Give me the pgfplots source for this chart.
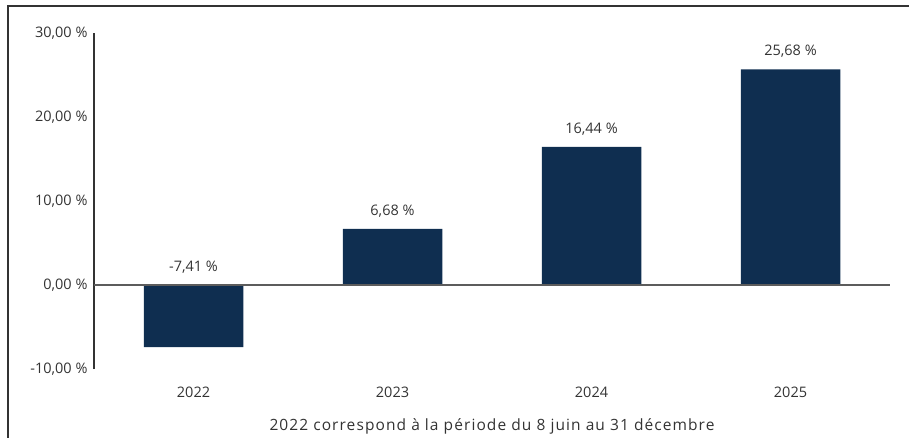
\documentclass[border=0pt]{standalone}
\usepackage{pgfplots}
\pgfplotsset{compat=1.18}
\usepackage{fontspec}
\setmainfont{Open Sans}
\definecolor{navy}{HTML}{0F2E50}
\definecolor{txt}{HTML}{333333}
\newcommand{\f}{\fontsize{14.5}{17}\selectfont}
\newcommand{\g}{\fontsize{15.5}{18}\selectfont\addfontfeature{LetterSpace=7}}
\begin{document}
\begin{tikzpicture}
\begin{axis}[
  scale only axis,
  width=796pt, height=336pt,
  xmin=-0.5, xmax=3.5,
  ymin=-10, ymax=30,
  clip=false,
  axis y line=left,
  axis x line=bottom,
  axis line style={-},
  y axis line style={draw=txt, line width=1.3pt},
  x axis line style={draw=none},
  major tick length=0pt,
  xtick={0,1,2,3},
  xticklabels={2022,2023,2024,2025},
  ytick={-10,0,10,20,30},
  yticklabels={{-10,00 \%},{0,00 \%},{10,00 \%},{20,00 \%},{30,00 \%}},
  tick label style={font=\f, text=txt},
  yticklabel style={xshift=-3pt},
  xticklabel style={yshift=-14pt},
  xlabel={2022 correspond à la période du 8 juin au 31 décembre},
  xlabel style={font=\g, text=txt, yshift=-15pt},
]
\addplot[ybar, bar width=0.5, fill=navy, draw=none] coordinates {(0,-7.41) (1,6.68) (2,16.44) (3,25.68)};
\draw[draw=txt!80, line width=1.2pt] (axis cs:-0.5,0) -- (axis cs:3.5,0);
\addplot[only marks, mark=none, point meta=explicit symbolic,
  nodes near coords,
  nodes near coords style={font=\f, text=txt, anchor=south, yshift=8pt}]
  coordinates {(0,0) [-7,41 \%] (1,6.68) [6,68 \%] (2,16.44) [16,44 \%] (3,25.68) [25,68 \%]};
\end{axis}
\path[use as bounding box] ([xshift=-94pt,yshift=-68pt]current axis.south west) rectangle ([xshift=19pt,yshift=33pt]current axis.north east);
\draw[draw=txt, line width=2pt] ([xshift=-86pt,yshift=-70pt]current axis.south west) -- ([xshift=-86pt,yshift=27pt]current axis.south west |- current axis.north east) -- ([xshift=20pt,yshift=27pt]current axis.north east);
\end{tikzpicture}
\end{document}
